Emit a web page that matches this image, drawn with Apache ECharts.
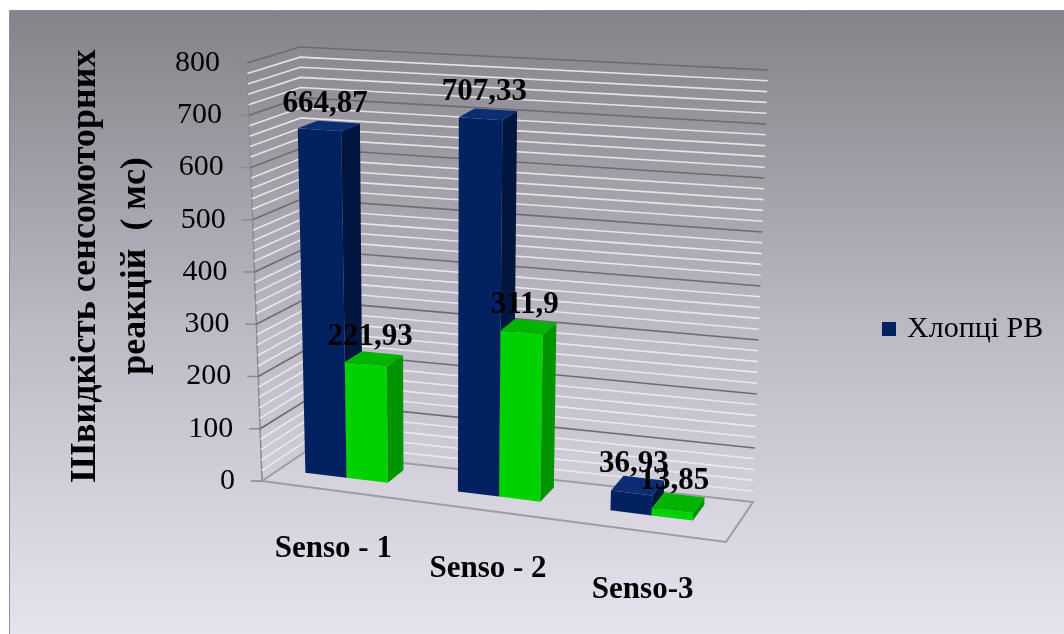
<!DOCTYPE html>
<html>
<head>
<meta charset="utf-8">
<script src="https://cdn.jsdelivr.net/npm/echarts@6/dist/echarts.min.js"></script>
<style>
  html, body { margin: 0; padding: 0; background: #ffffff; }
  #chart { width: 1064px; height: 634px; }
</style>
</head>
<body>
<div id="chart"></div>
<script>
// ---- data ----
const categories = ['Senso - 1', 'Senso - 2', 'Senso-3'];
const boysValues = [664.87, 707.33, 36.93];
const secondValues = [221.93, 311.9, 13.85];
const valueTicks = [0, 100, 200, 300, 400, 500, 600, 700, 800];
const minorPerMajor = 5;
const seriesNames = ['Хлопці РВ', 'Ряд 2'];
const legendNames = ['Хлопці РВ'];
const axisTitle = 'Швидкість сенсомоторних\nреакцій  ( мс)';

// ---- look ----
const SERIF = 'Liberation Serif';
const BLUE = { front: '#022161', side: '#00163f', top: '#0b2d72' };
const GREEN = { front: '#00d200', side: '#009400', top: '#00b400' };

// hidden cartesian grid that supplies the category / value scales
const GRID = { left: 253, top: 63, width: 464, height: 418 };
// front edge of the floor, used to turn a scale x into a 0..1 floor position
const FLOOR_X0 = 262, FLOOR_W = 464;
// bar width as a share of one category band, and bar depth inside the box
const BAR_SHARE = 0.27;
const BAR_W0 = 0.4, BAR_W1 = 0.8;

// screen corners of the 3-D plot box (f/b = front/back, l/r = left/right, b/t = bottom/top)
const BOX = {
  flb: [262, 481], frb: [726, 542], blb: [305, 452], brb: [753, 502],
  flt: [247, 63],  frt: [749, 97],  blt: [300, 47],  brt: [768, 70]
};

function lerp(a, b, k) {
  return [a[0] + (b[0] - a[0]) * k, a[1] + (b[1] - a[1]) * k];
}
// u: along categories, t: along values, w: depth (0 = front)
function project(u, t, w) {
  const fb = lerp(BOX.flb, BOX.frb, u), bb = lerp(BOX.blb, BOX.brb, u);
  const ft = lerp(BOX.flt, BOX.frt, u), bt = lerp(BOX.blt, BOX.brt, u);
  return lerp(lerp(fb, bb, w), lerp(ft, bt, w), t);
}
function uOf(px) { return (px - FLOOR_X0) / FLOOR_W; }
function tOf(api, value) {
  const p0 = api.coord([0, 0])[1];
  const p1 = api.coord([0, value])[1];
  return (p0 - p1) / GRID.height;
}

// gridline values: majors from the tick list plus evenly spaced minors between them
const gridValues = [];
valueTicks.forEach((v, i) => {
  gridValues.push([v, 1]);
  if (i < valueTicks.length - 1) {
    const step = (valueTicks[i + 1] - v) / minorPerMajor;
    for (let k = 1; k < minorPerMajor; k++) gridValues.push([v + step * k, 0]);
  }
});

function renderWall(params, api) {
  const v = api.value(0), major = api.value(1) === 1;
  const t = tOf(api, v);
  const pts = [project(0, t, 0), project(0, t, 1), project(1, t, 1)];
  const children = [];
  if (v > 0) {
    children.push({
      type: 'polyline',
      shape: { points: pts },
      style: major
        ? { stroke: '#6c6b71', lineWidth: 1.6, fill: null }
        : { stroke: 'rgba(236,236,242,0.9)', lineWidth: 1.6, fill: null }
    });
  }
  if (major) {
    const p = project(0, t, 0);
    children.push({
      type: 'line',
      shape: { x1: p[0] - 11, y1: p[1], x2: p[0], y2: p[1] },
      style: { stroke: '#8a8a8e', lineWidth: 1.5 }
    });
    children.push({
      type: 'text', x: p[0] - 27, y: p[1],
      style: {
        text: String(v), fontFamily: SERIF, fontSize: 30, fill: '#000',
        align: 'right', verticalAlign: 'middle'
      }
    });
  }
  if (params.dataIndex === 0) {
    // floor, front edge of the left wall and the back corner
    children.unshift({
      type: 'polygon',
      shape: { points: [project(0, 0, 0), project(1, 0, 0), project(1, 0, 1), project(0, 0, 1)] },
      style: { fill: 'rgba(255,255,255,0.10)', stroke: '#9c9ca2', lineWidth: 2 }
    });
    children.push({
      type: 'polyline',
      shape: { points: [project(0, 0, 0), project(0, 1, 0)] },
      style: { stroke: '#8a8a8e', lineWidth: 1.5, fill: null }
    });
    children.push({
      type: 'polyline',
      shape: { points: [project(0, 0, 1), project(0, 1, 1)] },
      style: { stroke: 'rgba(150,150,156,0.5)', lineWidth: 1, fill: null }
    });
  }
  return { type: 'group', children };
}

function barRenderer(slot, colors) {
  return function (params, api) {
    const cat = api.value(0), val = api.value(1);
    const center = api.coord([cat, 0])[0];
    const bw = api.size([1, 0])[0] * BAR_SHARE;
    const x0 = center + (slot - 1) * bw;
    const u0 = uOf(x0), u1 = uOf(x0 + bw);
    const t = tOf(api, val);
    const w0 = BAR_W0, w1 = BAR_W1;
    const front = [project(u0, 0, w0), project(u1, 0, w0), project(u1, t, w0), project(u0, t, w0)];
    const side = [project(u1, 0, w0), project(u1, 0, w1), project(u1, t, w1), project(u1, t, w0)];
    const top = [project(u0, t, w0), project(u1, t, w0), project(u1, t, w1), project(u0, t, w1)];
    const lp = project((u0 + u1) / 2, t, (w0 + w1) / 2);
    return {
      type: 'group',
      children: [
        { type: 'polygon', shape: { points: front }, style: { fill: colors.front } },
        { type: 'polygon', shape: { points: side }, style: { fill: colors.side } },
        { type: 'polygon', shape: { points: top }, style: { fill: colors.top } },
        {
          type: 'text', x: lp[0] - 4, y: lp[1] - 22,
          style: {
            text: String(val).replace('.', ','), fontFamily: SERIF, fontSize: 31,
            fontWeight: 'bold', fill: '#000', align: 'center', verticalAlign: 'middle'
          }
        }
      ]
    };
  };
}

function renderCategoryLabel(params, api) {
  const cat = api.value(0);
  const p = project(uOf(api.coord([cat, 0])[0]), 0, 0);
  return {
    type: 'text', x: p[0] + 3, y: p[1] + 59,
    style: {
      text: categories[cat], fontFamily: SERIF, fontSize: 31, fontWeight: 'bold',
      fill: '#000', align: 'center', verticalAlign: 'middle'
    }
  };
}

const chart = echarts.init(document.getElementById('chart'), null, { renderer: 'canvas' });
chart.setOption({
  animation: false,
  backgroundColor: '#ffffff',
  textStyle: { fontFamily: SERIF },
  grid: { left: GRID.left, top: GRID.top, width: GRID.width, height: GRID.height, show: false },
  xAxis: { type: 'category', data: categories, show: false, boundaryGap: true },
  yAxis: { type: 'value', min: 0, max: 800, interval: 100, show: false },
  legend: {
    data: legendNames, left: 877, top: 309, icon: 'rect',
    itemWidth: 14, itemHeight: 14,
    formatter: '{serif|{name}}',
    textStyle: {
      fontFamily: SERIF, fontSize: 30, color: '#000',
      rich: { serif: { fontFamily: SERIF, fontSize: 30, color: '#000', padding: [0, 0, 0, 6] } }
    }
  },
  graphic: [
    {
      type: 'rect', z: -10, silent: true,
      shape: { x: 9.5, y: 10.5, width: 1060, height: 630 },
      style: {
        fill: {
          type: 'linear', x: 0, y: 0, x2: 0, y2: 1,
          colorStops: [
            { offset: 0, color: '#858289' },
            { offset: 0.5, color: '#bcb8c4' },
            { offset: 1, color: '#e7e3ef' }
          ]
        },
        stroke: '#8e8e92', lineWidth: 1
      }
    },
    {
      type: 'text', x: 111, y: 266, rotation: Math.PI / 2, z: 50,
      style: {
        text: axisTitle, fontFamily: SERIF, fontSize: 36, fontWeight: 'bold',
        fill: '#000', align: 'center', verticalAlign: 'middle', lineHeight: 50
      }
    }
  ],
  series: [
    {
      type: 'custom', name: 'walls', coordinateSystem: 'cartesian2d', clip: false,
      silent: true, data: gridValues, encode: { x: -1, y: 0 },
      renderItem: renderWall
    },
    {
      type: 'custom', name: seriesNames[0], coordinateSystem: 'cartesian2d', clip: false,
      itemStyle: { color: BLUE.front },
      data: boysValues.map((v, i) => [i, v]),
      renderItem: barRenderer(0, BLUE)
    },
    {
      type: 'custom', name: seriesNames[1], coordinateSystem: 'cartesian2d', clip: false,
      itemStyle: { color: GREEN.front },
      data: secondValues.map((v, i) => [i, v]),
      renderItem: barRenderer(1, GREEN)
    },
    {
      type: 'custom', name: 'categories', coordinateSystem: 'cartesian2d', clip: false,
      silent: true, data: categories.map((c, i) => [i, 0]),
      renderItem: renderCategoryLabel
    }
  ]
});
</script>
</body>
</html>
